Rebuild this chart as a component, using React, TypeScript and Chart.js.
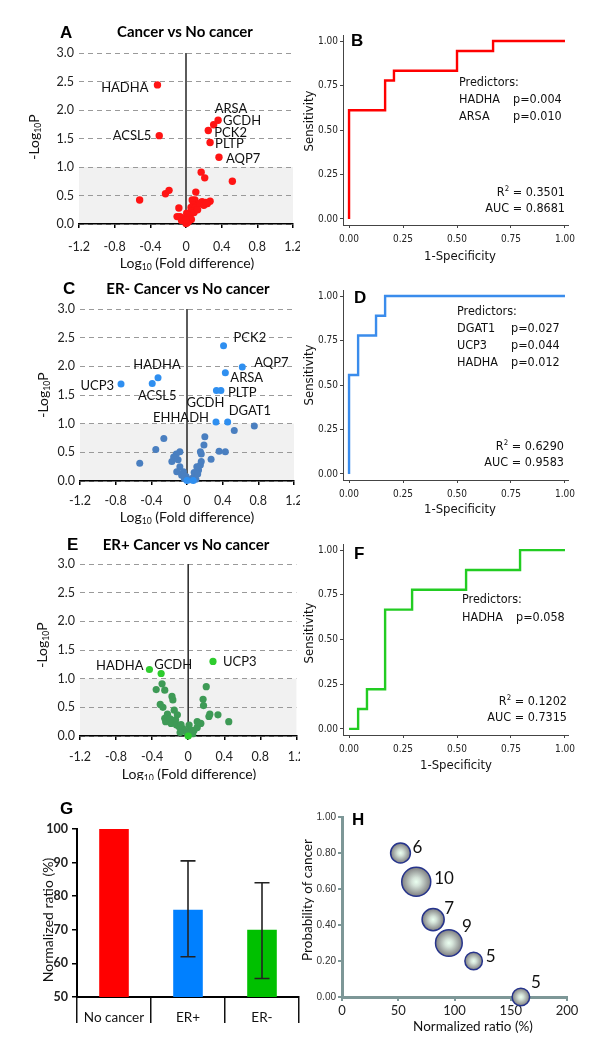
import React, { useEffect, useRef } from 'react';
import { Chart, registerables } from 'chart.js';
Chart.register(...registerables);

const CAL = "Lato, 'Open Sans', 'Noto Sans', sans-serif";
const TAH = "'DejaVu Sans Condensed', 'DejaVu Sans', sans-serif";
const ARI = "'Liberation Sans', Arial, sans-serif";

// ---------------- DATA ----------------
const volcanoXTicks = [-1.2, -0.8, -0.4, 0, 0.4, 0.8, 1.2];
const volcanoYTicks = [0, 0.5, 1, 1.5, 2, 2.5, 3];

// Panel A: Cancer vs No cancer
const genesA = [
  { gene: 'HADHA', x: -0.32, y: 2.44 },
  { gene: 'ACSL5', x: -0.3, y: 1.55 },
  { gene: 'GCDH', x: 0.36, y: 1.82 },
  { gene: 'ARSA', x: 0.31, y: 1.74 },
  { gene: 'PCK2', x: 0.25, y: 1.64 },
  { gene: 'PLTP', x: 0.27, y: 1.43 },
  { gene: 'AQP7', x: 0.37, y: 1.17 },
];
const otherA: [number, number][] = [
  [0.52, 0.75], [0.17, 0.91], [0.21, 0.81], [-0.52, 0.42], [-0.23, 0.53], [-0.19, 0.59],
  [0.11, 0.56], [-0.08, 0.28], [0.27, 0.4], [0.22, 0.38], [0.18, 0.39], [0.1, 0.42],
  [0.07, 0.42], [0.08, 0.33], [0.056, 0.29], [0.12, 0.31], [0.1, 0.28], [0.157, 0.36],
  [0.064, 0.22], [0.008, 0.19], [-0.067, 0.13], [-0.03, 0.1], [0, 0.01], [0.045, 0.13],
  [-0.1, 0.13], [0.03, 0.05], [0.02, 0.16], [0.09, 0.2], [0.13, 0.25], [0.2, 0.33],
  [0.24, 0.36], [-0.05, 0.06], [0.06, 0.08], [0.015, 0.02], [-0.005, 0.07], [0.23, 0.36],
];

// Panel C: ER- Cancer vs No cancer
const genesC = [
  { gene: 'PCK2', x: 0.41, y: 2.36 },
  { gene: 'AQP7', x: 0.62, y: 1.99 },
  { gene: 'ARSA', x: 0.43, y: 1.89 },
  { gene: 'GCDH', x: 0.33, y: 1.58 },
  { gene: 'PLTP', x: 0.38, y: 1.58 },
  { gene: 'EHHADH', x: 0.325, y: 1.03 },
  { gene: 'DGAT1', x: 0.456, y: 1.03 },
  { gene: 'UCP3', x: -0.74, y: 1.69 },
  { gene: 'HADHA', x: -0.325, y: 1.8 },
  { gene: 'ACSL5', x: -0.39, y: 1.7 },
];
const sigExtraC: [number, number][] = [[0.0, 0.01], [0.07, 0.01]];
const otherC: [number, number][] = [
  [0.755, 0.96], [0.53, 0.88], [0.2, 0.77], [0.19, 0.63], [-0.26, 0.74], [-0.35, 0.55],
  [-0.53, 0.31], [0.36, 0.52], [0.43, 0.51], [0.27, 0.38], [0.15, 0.51], [0.16, 0.47],
  [-0.08, 0.51], [-0.12, 0.47], [-0.15, 0.42], [-0.17, 0.34], [-0.1, 0.37], [-0.08, 0.25],
  [-0.115, 0.16], [-0.04, 0.16], [-0.06, 0.1], [-0.01, 0.08], [0.06, 0.05], [0.09, 0.1],
  [0.13, 0.19], [0.15, 0.28], [0.16, 0.34], [0.11, 0.25], [0.08, 0.15], [0.03, 0.02],
  [0.1, 0.03], [-0.03, 0.04], [0.12, 0.12],
];

// Panel E: ER+ Cancer vs No cancer
const genesE = [
  { gene: 'UCP3', x: 0.275, y: 1.3 },
  { gene: 'HADHA', x: -0.43, y: 1.16 },
  { gene: 'GCDH', x: -0.3, y: 1.09 },
];
const sigExtraE: [number, number][] = [[0.0, 0.0]];
const otherE: [number, number][] = [
  [-0.29, 0.91], [-0.355, 0.81], [-0.26, 0.8], [-0.18, 0.69], [-0.17, 0.63], [-0.31, 0.55],
  [-0.28, 0.5], [-0.23, 0.38], [-0.26, 0.31], [-0.25, 0.25], [-0.155, 0.45], [-0.12, 0.37],
  [-0.14, 0.28], [-0.19, 0.22], [-0.13, 0.19], [-0.1, 0.16], [-0.06, 0.13], [-0.04, 0.1],
  [-0.02, 0.06], [0.03, 0.1], [0.065, 0.1], [0.1, 0.15], [0.14, 0.22], [0.2, 0.86],
  [0.165, 0.64], [0.17, 0.53], [0.24, 0.38], [0.23, 0.34], [0.33, 0.37], [0.45, 0.25],
  [0.1, 0.25], [0.01, 0.19], [-0.08, 0.2], [-0.2, 0.3], [-0.09, 0.06], [0.05, 0.04],
];

// ROC curves (1-specificity, sensitivity), step corners
const rocTicks = [0, 0.25, 0.5, 0.75, 1];
const rocB_fpr = [0, 0.167, 0.208, 0.5, 0.667, 1];
const rocB_tpr = [0, 0.611, 0.778, 0.833, 0.944, 1];
const rocD_fpr = [0, 0.042, 0.125, 0.167, 1];
const rocD_tpr = [0, 0.556, 0.778, 0.889, 1];
const rocF_fpr = [0, 0.042, 0.083, 0.167, 0.292, 0.542, 0.792, 1];
const rocF_tpr = [0, 0, 0.111, 0.222, 0.667, 0.778, 0.889, 1];
const predictorsB = [['HADHA', 'p=0.004'], ['ARSA', 'p=0.010']];
const predictorsD = [['DGAT1', 'p=0.027'], ['UCP3', 'p=0.044'], ['HADHA', 'p=0.012']];
const predictorsF = [['HADHA', 'p=0.058']];
const statsB = { r2: '0.3501', auc: '0.8681' };
const statsD = { r2: '0.6290', auc: '0.9583' };
const statsF = { r2: '0.1202', auc: '0.7315' };

// Panel G
const groupsG = ['No cancer', 'ER+', 'ER-'];
const ratioG = [100, 76, 70];
const errLowG = [null, 62, 55.5];
const errHighG = [null, 90.5, 84];

// Panel H
const ratioH = [52, 66, 81, 95, 117, 159];
const probH = [0.8, 0.64, 0.43, 0.3, 0.2, 0.0];
const countH = [6, 10, 7, 9, 5, 5];

// ---------------- TEXT HELPERS ----------------
type Part = string | { s: string; sub?: boolean; sup?: boolean };
type Txt = {
  x: number; y: number; parts: Part[]; size: number; family: string;
  weight?: string; align?: 'left' | 'center' | 'right'; rot?: number; color?: string;
};
function drawTxt(ctx: CanvasRenderingContext2D, t: Txt, ox: number, oy: number) {
  ctx.save();
  ctx.translate(t.x - ox, t.y - oy);
  if (t.rot) ctx.rotate(t.rot);
  ctx.fillStyle = t.color || '#111';
  ctx.textBaseline = 'middle';
  ctx.textAlign = 'left';
  const items = t.parts.map((p) => (typeof p === 'string' ? { s: p } : p)) as { s: string; sub?: boolean; sup?: boolean }[];
  const fontFor = (p: any) => `${t.weight || 'normal'} ${p.sub || p.sup ? t.size * 0.62 : t.size}px ${t.family}`;
  let total = 0;
  const widths = items.map((p) => { ctx.font = fontFor(p); const w = ctx.measureText(p.s).width; total += w; return w; });
  let x = t.align === 'center' ? -total / 2 : t.align === 'right' ? -total : 0;
  items.forEach((p, i) => {
    ctx.font = fontFor(p);
    const dy = p.sub ? t.size * 0.3 : p.sup ? -t.size * 0.32 : 0;
    ctx.fillText(p.s, x, dy);
    x += widths[i];
  });
  ctx.restore();
}
const ROT = -Math.PI / 2;
const letter = (s: string, x: number, y: number): Txt => ({ x, y, parts: [s], size: 17, family: ARI, weight: 'bold', align: 'left', color: '#000' });

// ---------------- PANEL BUILDERS ----------------
type Area = { l: number; t: number; r: number; b: number };
function layoutFor(w: number, h: number, a: Area, ox: number, oy: number, yW: number, xH: number) {
  return { padding: { left: a.l - ox - yW, top: a.t - oy, right: w - (a.r - ox), bottom: h - (a.b - oy) - xH } };
}

function volcanoConfig(o: {
  w: number; h: number; ox: number; oy: number; area: Area; tickPad: number;
  sig: { gene: string; x: number; y: number }[]; sigExtra: [number, number][]; other: [number, number][];
  sigColor: string; otherColor: string; radius: number;
  labelPos: Record<string, [number, number, 'left' | 'center' | 'right']>; texts: Txt[];
}) {
  const yW = 40, xH = 34;
  const plugin = {
    id: 'volc',
    beforeDraw(chart: any) {
      const { ctx, chartArea: ca, scales } = chart;
      const y1 = scales.y.getPixelForValue(1), y0 = scales.y.getPixelForValue(0);
      ctx.save(); ctx.fillStyle = '#f1f1f1';
      ctx.fillRect(ca.left, y1, ca.right - ca.left, y0 - y1);
      ctx.restore();
    },
    beforeDatasetsDraw(chart: any) {
      const { ctx, scales } = chart;
      const x0 = scales.x.getPixelForValue(0);
      ctx.save(); ctx.strokeStyle = '#333'; ctx.lineWidth = 1.6;
      ctx.beginPath(); ctx.moveTo(x0, scales.y.getPixelForValue(0)); ctx.lineTo(x0, scales.y.getPixelForValue(3)); ctx.stroke();
      ctx.restore();
    },
    afterDatasetsDraw(chart: any) {
      const { ctx, scales } = chart;
      o.sig.forEach((g) => {
        const lp = o.labelPos[g.gene];
        if (!lp) return;
        const px = scales.x.getPixelForValue(g.x), py = scales.y.getPixelForValue(g.y);
        drawTxt(ctx, { x: px + lp[0], y: py + lp[1], parts: [g.gene], size: 13, family: CAL, align: lp[2], color: '#111' }, 0, 0);
      });
    },
    afterDraw(chart: any) { o.texts.forEach((t) => drawTxt(chart.ctx, t, o.ox, o.oy)); },
  };
  const pt = { pointRadius: o.radius, pointHoverRadius: o.radius, borderWidth: 0, clip: false as any };
  return {
    type: 'scatter',
    data: {
      datasets: [
        { data: [...o.sig.map((g) => ({ x: g.x, y: g.y })), ...o.sigExtra.map(([x, y]) => ({ x, y }))], backgroundColor: o.sigColor, ...pt },
        { data: o.other.map(([x, y]) => ({ x, y })), backgroundColor: o.otherColor, ...pt },
      ],
    },
    options: {
      responsive: false, animation: false, devicePixelRatio: 1, events: [],
      layout: layoutFor(o.w, o.h, o.area, o.ox, o.oy, yW, xH),
      plugins: { legend: { display: false }, tooltip: { enabled: false } },
      scales: {
        x: {
          type: 'linear', min: -1.2, max: 1.2,
          afterBuildTicks: (s: any) => { s.ticks = volcanoXTicks.map((v) => ({ value: v })); },
          afterFit: (s: any) => { s.height = xH; s.paddingLeft = 0; s.paddingRight = 0; },
          ticks: { callback: (v: any) => (v === 0 ? '0' : Number(v).toFixed(1)), font: { family: CAL, size: 12.5 }, color: '#222', padding: o.tickPad, maxRotation: 0 },
          grid: { drawOnChartArea: false, drawTicks: true, tickLength: 4, color: '#000', lineWidth: 1.5 },
          border: { display: true, color: '#000', width: 1.6 },
        },
        y: {
          type: 'linear', min: 0, max: 3,
          afterBuildTicks: (s: any) => { s.ticks = volcanoYTicks.map((v) => ({ value: v })); },
          afterFit: (s: any) => { s.width = yW; s.paddingTop = 0; s.paddingBottom = 0; },
          ticks: { callback: (v: any) => Number(v).toFixed(1), font: { family: CAL, size: 12.5 }, color: '#222', padding: 5 },
          grid: { drawTicks: false, color: '#9a9a9a', lineWidth: 1 },
          border: { display: false, dash: [5, 4] },
        },
      },
    },
    plugins: [plugin],
  };
}

function rocConfig(o: {
  w: number; h: number; ox: number; oy: number; area: Area;
  fpr: number[]; tpr: number[]; color: string;
  predictors: string[][]; stats: { r2: string; auc: string };
  predX: number; predY: number; pX: number; rowH: number; statX: number; statY: number; texts: Txt[];
}) {
  const yW = 40, xH = 30;
  const all: Txt[] = [
    ...o.texts,
    { x: o.predX, y: o.predY, parts: ['Predictors:'], size: 12.5, family: TAH, align: 'left' },
    ...o.predictors.flatMap((p, i) => [
      { x: o.predX, y: o.predY + o.rowH * (i + 1), parts: [p[0]], size: 12.5, family: TAH, align: 'left' as const },
      { x: o.pX, y: o.predY + o.rowH * (i + 1), parts: [p[1]], size: 12.5, family: TAH, align: 'left' as const },
    ]),
    { x: o.statX, y: o.statY, parts: ['R', { s: '2', sup: true }, ' = ' + o.stats.r2], size: 12.5, family: TAH, align: 'right' },
    { x: o.statX, y: o.statY + 16, parts: ['AUC = ' + o.stats.auc], size: 12.5, family: TAH, align: 'right' },
  ];
  const plugin = { id: 'rocTxt', afterDraw(chart: any) { all.forEach((t) => drawTxt(chart.ctx, t, o.ox, o.oy)); } };
  const axisCol = '#444';
  return {
    type: 'line',
    data: { datasets: [{ data: o.fpr.map((x, i) => ({ x, y: o.tpr[i] })), borderColor: o.color, borderWidth: 2.4, pointRadius: 0, stepped: 'after', fill: false, clip: false as any }] },
    options: {
      responsive: false, animation: false, devicePixelRatio: 1, events: [],
      layout: layoutFor(o.w, o.h, o.area, o.ox, o.oy, yW, xH),
      plugins: { legend: { display: false }, tooltip: { enabled: false } },
      scales: {
        x: {
          type: 'linear', min: -0.028, max: 1.014,
          afterBuildTicks: (s: any) => { s.ticks = rocTicks.map((v) => ({ value: v })); },
          afterFit: (s: any) => { s.height = xH; s.paddingLeft = 0; s.paddingRight = 0; },
          ticks: { callback: (v: any) => Number(v).toFixed(2), font: { family: TAH, size: 10 }, color: '#222', padding: 5, maxRotation: 0 },
          grid: { drawOnChartArea: false, drawTicks: true, tickLength: 3, color: axisCol, lineWidth: 1 },
          border: { display: true, color: axisCol, width: 1 },
        },
        y: {
          type: 'linear', min: -0.034, max: 1.034,
          afterBuildTicks: (s: any) => { s.ticks = rocTicks.map((v) => ({ value: v })); },
          afterFit: (s: any) => { s.width = yW; s.paddingTop = 0; s.paddingBottom = 0; },
          ticks: { callback: (v: any) => Number(v).toFixed(2), font: { family: TAH, size: 10 }, color: '#222', padding: 2 },
          grid: { drawOnChartArea: false, drawTicks: true, tickLength: 3, color: axisCol, lineWidth: 1 },
          border: { display: true, color: axisCol, width: 1 },
        },
      },
    },
    plugins: [plugin],
  };
}

function barConfig() {
  const w = 300, h = 270, ox = 0, oy = 780;
  const area = { l: 77, r: 299, t: 829, b: 997 };
  const yW = 40, xH = 30;
  const texts: Txt[] = [
    letter('G', 60, 809),
    { x: 48, y: 920, parts: ['Normalized ratio (%)'], size: 14, family: CAL, align: 'center', rot: ROT },
  ];
  const plugin = {
    id: 'gExtra',
    afterDatasetsDraw(chart: any) {
      const { ctx, scales } = chart;
      const meta = chart.getDatasetMeta(0);
      ctx.save(); ctx.strokeStyle = '#222'; ctx.lineWidth = 1.6;
      meta.data.forEach((el: any, i: number) => {
        const lo = errLowG[i], hi = errHighG[i];
        if (lo == null || hi == null) return;
        const y1 = scales.y.getPixelForValue(lo), y2 = scales.y.getPixelForValue(hi);
        ctx.beginPath();
        ctx.moveTo(el.x, y1); ctx.lineTo(el.x, y2);
        ctx.moveTo(el.x - 7.5, y1); ctx.lineTo(el.x + 7.5, y1);
        ctx.moveTo(el.x - 7.5, y2); ctx.lineTo(el.x + 7.5, y2);
        ctx.stroke();
      });
      ctx.restore();
    },
    afterDraw(chart: any) { texts.forEach((t) => drawTxt(chart.ctx, t, ox, oy)); },
  };
  return {
    type: 'bar',
    data: {
      labels: groupsG,
      datasets: [{ data: ratioG, backgroundColor: ['#ff0000', '#0080ff', '#00c000'], barPercentage: 0.4, categoryPercentage: 1, borderWidth: 0 }],
    },
    options: {
      responsive: false, animation: false, devicePixelRatio: 1, events: [],
      layout: layoutFor(w, h, area, ox, oy, yW, xH),
      plugins: { legend: { display: false }, tooltip: { enabled: false } },
      scales: {
        x: {
          afterFit: (s: any) => { s.height = xH; s.paddingLeft = 0; s.paddingRight = 0; },
          ticks: { font: { family: CAL, size: 13.5 }, color: '#111', padding: -13, maxRotation: 0 },
          grid: { offset: true, drawOnChartArea: false, drawTicks: true, tickLength: 26, color: '#111', lineWidth: 1.5 },
          border: { display: true, color: '#000', width: 2 },
        },
        y: {
          min: 50, max: 100,
          afterFit: (s: any) => { s.width = yW; s.paddingTop = 0; s.paddingBottom = 0; },
          ticks: { stepSize: 10, font: { family: CAL, size: 12.5, weight: 'bold' }, color: '#222', padding: 4 },
          grid: { drawOnChartArea: false, drawTicks: true, tickLength: 5, color: '#000', lineWidth: 1.5 },
          border: { display: true, color: '#000', width: 2 },
        },
      },
    },
    plugins: [plugin],
  };
}

function bubbleConfig() {
  const w = 300, h = 270, ox = 300, oy = 780;
  const area = { l: 342, r: 567, t: 817, b: 997 };
  const yW = 40, xH = 30;
  const axisCol = '#7d9797';
  const radiusFor = (n: number) => 3 + 1.15 * n;
  const labelOff: [number, number][] = [[12, -5], [18, -3], [11, -11], [13, -16], [12, -4], [10, -14]];
  const texts: Txt[] = [
    letter('H', 352, 820),
    { x: 308, y: 900, parts: ['Probability of cancer'], size: 13.5, family: CAL, align: 'center', rot: ROT },
    { x: 473, y: 1027, parts: ['Normalized ratio (%)'], size: 13.5, family: CAL, align: 'center' },
  ];
  const plugin = {
    id: 'hExtra',
    afterDatasetsDraw(chart: any) {
      const { ctx, scales } = chart;
      countH.forEach((n, i) => {
        const px = scales.x.getPixelForValue(ratioH[i]), py = scales.y.getPixelForValue(probH[i]);
        drawTxt(ctx, { x: px + labelOff[i][0], y: py + labelOff[i][1], parts: [String(n)], size: 17, family: CAL, align: 'left', color: '#111' }, 0, 0);
      });
    },
    afterDraw(chart: any) { texts.forEach((t) => drawTxt(chart.ctx, t, ox, oy)); },
  };
  return {
    type: 'bubble',
    data: {
      datasets: [{
        data: ratioH.map((x, i) => ({ x, y: probH[i] })),
        radius: (c: any) => (c.dataIndex == null ? 10 : radiusFor(countH[c.dataIndex])),
        hoverRadius: 0,
        backgroundColor: (c: any) => {
          const chart = c.chart; const sx = chart.scales && chart.scales.x; const sy = chart.scales && chart.scales.y;
          if (c.dataIndex == null || !sx || !sy) return '#aaa';
          const px = sx.getPixelForValue(ratioH[c.dataIndex]), py = sy.getPixelForValue(probH[c.dataIndex]);
          const r = radiusFor(countH[c.dataIndex]);
          if (!isFinite(px) || !isFinite(py) || !isFinite(r)) return '#aaa';
          const g = chart.ctx.createRadialGradient(px, py, 0, px, py, r);
          g.addColorStop(0, '#eafff0');
          g.addColorStop(0.3, '#d4e2d8');
          g.addColorStop(1, '#7e7e80');
          return g;
        },
        borderColor: '#26348c', borderWidth: 1.5, clip: false as any,
      }],
    },
    options: {
      responsive: false, animation: false, devicePixelRatio: 1, events: [],
      layout: layoutFor(w, h, area, ox, oy, yW, xH),
      plugins: { legend: { display: false }, tooltip: { enabled: false } },
      scales: {
        x: {
          type: 'linear', min: 0, max: 200,
          afterFit: (s: any) => { s.height = xH; s.paddingLeft = 0; s.paddingRight = 0; },
          ticks: { stepSize: 50, font: { family: CAL, size: 13 }, color: '#222', padding: 2, maxRotation: 0 },
          grid: { drawOnChartArea: false, drawTicks: true, tickLength: 4, color: axisCol, lineWidth: 2 },
          border: { display: true, color: axisCol, width: 3 },
        },
        y: {
          type: 'linear', min: 0, max: 1,
          afterFit: (s: any) => { s.width = yW; s.paddingTop = 0; s.paddingBottom = 0; },
          ticks: { stepSize: 0.2, callback: (v: any) => Number(v).toFixed(2), font: { family: ARI, size: 10 }, color: '#333', padding: 2 },
          grid: { drawOnChartArea: false, drawTicks: true, tickLength: 4, color: axisCol, lineWidth: 2 },
          border: { display: true, color: axisCol, width: 3 },
        },
      },
    },
    plugins: [plugin],
  };
}

// ---------------- COMPONENTS ----------------
function Panel({ x, y, w, h, build }: { x: number; y: number; w: number; h: number; build: () => any }) {
  const ref = useRef<HTMLCanvasElement>(null);
  useEffect(() => {
    let c: Chart | null = null;
    try {
      c = new Chart(ref.current as HTMLCanvasElement, build());
    } catch (e) {
      console.error(e);
    }
    return () => { if (c) c.destroy(); };
  }, []);
  return <canvas ref={ref} width={w} height={h} style={{ position: 'absolute', left: x, top: y, width: w, height: h }} />;
}

const volcTitles = (L: string, lx: number, ly: number, title: string, tx: number, ty: number, yx: number, yy: number, xx: number, xy: number): Txt[] => [
  letter(L, lx, ly),
  { x: tx, y: ty, parts: [title], size: 15, family: CAL, weight: 'bold', align: 'center', color: '#000' },
  { x: yx, y: yy, parts: ['-Log', { s: '10', sub: true }, 'P'], size: 14, family: CAL, align: 'center', rot: ROT },
  { x: xx, y: xy, parts: ['Log', { s: '10', sub: true }, ' (Fold difference)'], size: 14, family: CAL, align: 'center' },
];
const rocTitles = (L: string, lx: number, ly: number, yy: number, xx: number, xy: number): Txt[] => [
  letter(L, lx, ly),
  { x: 310, y: yy, parts: ['Sensitivity'], size: 13, family: TAH, align: 'center', rot: ROT },
  { x: xx, y: xy, parts: ['1-Specificity'], size: 13, family: TAH, align: 'center' },
];

export default function App() {
  return (
    <div style={{ position: 'absolute', left: 0, top: 0, width: 600, height: 1050, background: '#fff', overflow: 'hidden' }}>
      <Panel x={0} y={0} w={300} h={275} build={() => volcanoConfig({
        w: 300, h: 275, ox: 0, oy: 0, area: { l: 79, r: 293, t: 53, b: 224 }, tickPad: 11,
        sig: genesA, sigExtra: [], other: otherA, sigColor: '#ff1414', otherColor: '#ff1414', radius: 3.7,
        labelPos: { HADHA: [-9, 3, 'right'], ACSL5: [-8, 0, 'right'], GCDH: [5, 1, 'left'], ARSA: [1, -16, 'left'], PCK2: [6, 2, 'left'], PLTP: [5, 1, 'left'], AQP7: [7, 2, 'left'] },
        texts: volcTitles('A', 60, 33, 'Cancer vs No cancer', 185, 32, 34, 137, 187, 263),
      })} />
      <Panel x={300} y={0} w={300} h={275} build={() => rocConfig({
        w: 300, h: 275, ox: 300, oy: 0, area: { l: 343, r: 568, t: 35, b: 225 },
        fpr: rocB_fpr, tpr: rocB_tpr, color: '#ff0000', predictors: predictorsB, stats: statsB,
        predX: 459, predY: 83, pX: 513, rowH: 16.7, statX: 565, statY: 193,
        texts: rocTitles('B', 351, 41, 121, 460, 257),
      })} />
      <Panel x={0} y={270} w={300} h={260} build={() => volcanoConfig({
        w: 300, h: 260, ox: 0, oy: 270, area: { l: 80, r: 294, t: 309, b: 481 }, tickPad: 8,
        sig: genesC, sigExtra: sigExtraC, other: otherC, sigColor: '#2f8ff0', otherColor: '#4a7fc0', radius: 3.5,
        labelPos: { PCK2: [10, -8, 'left'], AQP7: [12, -4, 'left'], ARSA: [5, 5, 'left'], PLTP: [7, 2, 'left'], GCDH: [-11, 12, 'center'], EHHADH: [-7, -4, 'right'], DGAT1: [1, -11, 'left'], UCP3: [-7, 2, 'right'], HADHA: [-1, -13, 'center'], ACSL5: [5, 12, 'center'] },
        texts: volcTitles('C', 63, 289, 'ER- Cancer vs No cancer', 188, 289, 43, 395, 187, 517),
      })} />
      <Panel x={300} y={270} w={300} h={260} build={() => rocConfig({
        w: 300, h: 260, ox: 300, oy: 270, area: { l: 343, r: 568, t: 290, b: 480 },
        fpr: rocD_fpr, tpr: rocD_tpr, color: '#3a8cec', predictors: predictorsD, stats: statsD,
        predX: 457, predY: 312, pX: 511, rowH: 17, statX: 564, statY: 447,
        texts: rocTitles('D', 354, 298, 375, 460, 510),
      })} />
      <Panel x={0} y={520} w={300} h={260} build={() => volcanoConfig({
        w: 300, h: 260, ox: 0, oy: 520, area: { l: 80, r: 298, t: 564, b: 736 }, tickPad: 9,
        sig: genesE, sigExtra: sigExtraE, other: otherE, sigColor: '#2ecc2e', otherColor: '#3e9a56', radius: 3.6,
        labelPos: { UCP3: [10, 0, 'left'], HADHA: [-6, -4, 'right'], GCDH: [-7, -9, 'left'] },
        texts: volcTitles('E', 67, 545, 'ER+ Cancer vs No cancer', 186, 545, 42, 645, 189, 774),
      })} />
      <Panel x={300} y={520} w={300} h={260} build={() => rocConfig({
        w: 300, h: 260, ox: 300, oy: 520, area: { l: 343, r: 568, t: 544, b: 735 },
        fpr: rocF_fpr, tpr: rocF_tpr, color: '#22cc22', predictors: predictorsF, stats: statsF,
        predX: 462, predY: 600, pX: 516, rowH: 18, statX: 567, statY: 702,
        texts: rocTitles('F', 354, 554, 633, 456, 766),
      })} />
      <Panel x={0} y={780} w={300} h={270} build={barConfig} />
      <Panel x={300} y={780} w={300} h={270} build={bubbleConfig} />
    </div>
  );
}
